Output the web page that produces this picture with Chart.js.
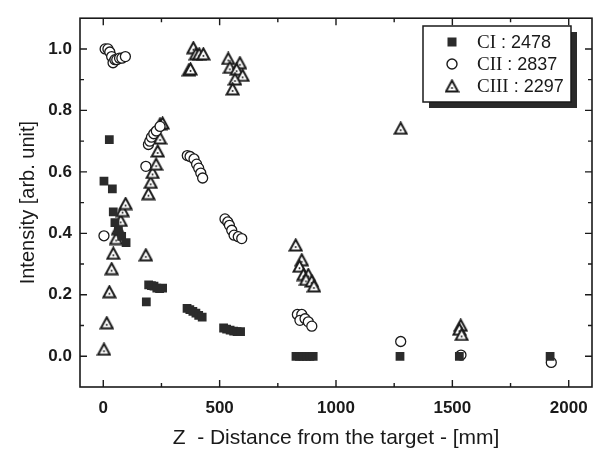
<!DOCTYPE html>
<html>
<head>
<meta charset="utf-8">
<script src="https://cdn.jsdelivr.net/npm/chart.js@4/dist/chart.umd.min.js"></script>
<style>
  html, body { margin: 0; padding: 0; background: #fff; }
  #wrap { width: 600px; height: 452px; }
</style>
</head>
<body>
<div id="wrap"><canvas id="chart"></canvas></div>
<script>
// CI : 2478 (filled squares)
const ciZ = [3, 26, 39, 43, 50, 65, 79, 98, 185, 195, 207, 218, 230, 242, 255, 360, 372, 385, 398, 410, 425, 517, 530, 545, 560, 575, 590, 828, 843, 858, 873, 888, 902, 1275, 1530, 1920];
const ciI = [0.57, 0.705, 0.545, 0.47, 0.435, 0.41, 0.39, 0.37, 0.177, 0.232, 0.23, 0.228, 0.222, 0.22, 0.222, 0.156, 0.152, 0.146, 0.14, 0.133, 0.127, 0.092, 0.088, 0.085, 0.082, 0.08, 0.08, 0, 0, 0, 0, 0, 0, 0, 0, 0];

// CII : 2837 (open circles)
const ciiZ = [3, 8, 20, 28, 36, 42, 50, 58, 70, 80, 95, 183, 194, 200, 207, 217, 228, 244, 361, 373, 390, 401, 410, 419, 427, 523, 535, 542, 552, 562, 580, 595, 834, 853, 845, 867, 881, 896, 1278, 1537, 1925];
const ciiI = [0.392, 1.0, 1.0, 0.99, 0.975, 0.955, 0.965, 0.965, 0.97, 0.97, 0.975, 0.618, 0.689, 0.7, 0.713, 0.724, 0.733, 0.748, 0.653, 0.65, 0.642, 0.625, 0.612, 0.596, 0.58, 0.447, 0.437, 0.426, 0.41, 0.394, 0.389, 0.383, 0.136, 0.136, 0.117, 0.122, 0.112, 0.098, 0.048, 0.004, -0.02];

// CIII : 2297 (open triangles)
const ciiiZ = [3, 15, 26, 36, 43, 55, 64, 75, 83, 96, 183, 194, 204, 212, 227, 234, 244, 244, 255, 368, 375, 387, 398, 412, 430, 537, 544, 587, 573, 599, 566, 556, 827, 853, 843, 860, 881, 871, 896, 905, 1278, 1536, 1530, 1540];
const ciiiI = [0.023, 0.109, 0.21, 0.285, 0.335, 0.383, 0.415, 0.442, 0.474, 0.497, 0.33, 0.529, 0.566, 0.598, 0.625, 0.668, 0.71, 0.756, 0.759, 0.932, 0.935, 1.004, 0.984, 0.984, 0.984, 0.969, 0.94, 0.955, 0.934, 0.914, 0.902, 0.87, 0.362, 0.314, 0.293, 0.266, 0.266, 0.25, 0.245, 0.229, 0.742, 0.101, 0.088, 0.071];

const seriesLabels = ['CI : 2478', 'CII : 2837', 'CIII : 2297'];

const xMajor = [0, 500, 1000, 1500, 2000];
const xMinor = [250, 750, 1250, 1750];
const yMajor = [0, 0.2, 0.4, 0.6, 0.8, 1.0];
const yMinor = [0.1, 0.3, 0.5, 0.7, 0.9];

const toPoints = (xs, ys) => xs.map((x, i) => ({ x: x, y: ys[i] }));

// triangle marker with the small dot in the middle
const makeTriangle = () => {
  const c = document.createElement('canvas');
  c.width = 15; c.height = 14;
  const g = c.getContext('2d');
  g.beginPath();
  g.moveTo(7.5, 1.5);
  g.lineTo(13.5, 12.5);
  g.lineTo(1.5, 12.5);
  g.closePath();
  g.fillStyle = '#fff';
  g.fill();
  g.lineWidth = 2;
  g.strokeStyle = '#1a1a1a';
  g.stroke();
  g.beginPath();
  g.arc(7.5, 9, 1, 0, Math.PI * 2);
  g.fillStyle = '#1a1a1a';
  g.fill();
  return c;
};
const triangle = makeTriangle();

// frame, inward ticks on all four sides and the boxed legend
const framePlugin = {
  id: 'frame',
  afterDraw(chart) {
    const ctx = chart.ctx;
    const a = chart.chartArea;
    const xs = chart.scales.x, ys = chart.scales.y;
    ctx.save();
    ctx.strokeStyle = '#1a1a1a';
    ctx.lineWidth = 1.6;
    ctx.strokeRect(a.left, a.top, a.right - a.left, a.bottom - a.top);

    ctx.lineWidth = 1.4;
    const tickX = (v, len) => {
      const p = xs.getPixelForValue(v);
      ctx.beginPath();
      ctx.moveTo(p, a.bottom); ctx.lineTo(p, a.bottom - len);
      ctx.moveTo(p, a.top); ctx.lineTo(p, a.top + len);
      ctx.stroke();
    };
    const tickY = (v, len) => {
      const p = ys.getPixelForValue(v);
      ctx.beginPath();
      ctx.moveTo(a.left, p); ctx.lineTo(a.left + len, p);
      ctx.moveTo(a.right, p); ctx.lineTo(a.right - len, p);
      ctx.stroke();
    };
    xMajor.forEach(v => tickX(v, 7));
    xMinor.forEach(v => tickX(v, 4));
    yMajor.forEach(v => tickY(v, 7));
    yMinor.forEach(v => tickY(v, 4));

    // legend box with shadow
    const bx = 423, by = 26, bw = 148, bh = 76;
    ctx.fillStyle = '#2a2a2a';
    ctx.fillRect(bx + 6, by + 6, bw, bh);
    ctx.fillStyle = '#fff';
    ctx.fillRect(bx, by, bw, bh);
    ctx.lineWidth = 1.5;
    ctx.strokeRect(bx, by, bw, bh);

    const rows = [42, 64, 86];
    chart.data.datasets.forEach((ds, i) => {
      const y = rows[i];
      const mx = 452;
      if (ds.pointStyle === 'rect') {
        ctx.fillStyle = '#2b2b2b';
        ctx.fillRect(mx - 4.5, y - 4.5, 9, 9);
      } else if (ds.pointStyle === 'circle') {
        ctx.beginPath();
        ctx.arc(mx, y, 5, 0, Math.PI * 2);
        ctx.lineWidth = 1.4;
        ctx.strokeStyle = '#1a1a1a';
        ctx.stroke();
      } else {
        ctx.drawImage(triangle, mx - 7.5, y - 7);
      }
      const parts = ds.label.split(' ');
      const name = parts[0];
      const rest = ' ' + parts.slice(1).join(' ');
      ctx.fillStyle = '#1a1a1a';
      ctx.textBaseline = 'middle';
      ctx.textAlign = 'left';
      ctx.font = '19px "Liberation Serif"';
      ctx.fillText(name, 477, y + 1);
      const w = ctx.measureText(name).width;
      ctx.font = '18px "Liberation Sans"';
      ctx.fillText(rest, 477 + w, y + 1);
    });
    ctx.restore();
  }
};

const ctx = document.getElementById('chart').getContext('2d');
const chart = new Chart(ctx, {
  type: 'scatter',
  data: {
    datasets: [{
      label: seriesLabels[0],
      data: toPoints(ciZ, ciI),
      pointStyle: 'rect',
      pointRadius: 6.2,
      backgroundColor: '#2b2b2b',
      borderColor: '#2b2b2b',
      borderWidth: 0,
    }, {
      label: seriesLabels[1],
      data: toPoints(ciiZ, ciiI),
      pointStyle: 'circle',
      pointRadius: 5,
      backgroundColor: '#fff',
      borderColor: '#1a1a1a',
      borderWidth: 1.3,
    }, {
      label: seriesLabels[2],
      data: toPoints(ciiiZ, ciiiI),
      pointStyle: triangle,
      backgroundColor: '#fff',
      borderColor: '#1a1a1a',
    }]
  },
  options: {
    responsive: true,
    maintainAspectRatio: false,
    animation: false,
    layout: { padding: { top: 10, right: 8, left: 0, bottom: 0 } },
    plugins: {
      legend: { display: false },
      tooltip: { enabled: false },
    },
    scales: {
      x: {
        type: 'linear',
        min: -100,
        max: 2100,
        afterBuildTicks: s => { s.ticks = xMajor.map(v => ({ value: v })); },
        afterFit: s => { s.height = 65; },
        grid: { display: false, drawTicks: false },
        border: { display: false },
        ticks: {
          padding: 11,
          maxRotation: 0,
          color: '#1a1a1a',
          font: { family: 'Liberation Sans', size: 17, weight: 'bold' },
          callback: v => String(v),
        },
        title: {
          display: true,
          text: 'Z  - Distance from the target - [mm]',
          color: '#1a1a1a',
          font: { family: 'Liberation Sans', size: 21, lineHeight: 1.2 },
          padding: { top: 0, bottom: 1 },
        },
      },
      y: {
        type: 'linear',
        min: -0.1,
        max: 1.1,
        afterBuildTicks: s => { s.ticks = yMajor.map(v => ({ value: v })); },
        afterFit: s => { s.width = 80; },
        grid: { display: false, drawTicks: false },
        border: { display: false },
        ticks: {
          padding: 8,
          color: '#1a1a1a',
          font: { family: 'Liberation Sans', size: 17, weight: 'bold' },
          callback: v => v.toFixed(1),
        },
        title: {
          display: true,
          text: 'Intensity [arb. unit]',
          color: '#1a1a1a',
          font: { family: 'Liberation Sans', size: 20, lineHeight: 1.2 },
          padding: { top: 16, bottom: 0 },
        },
      },
    },
  },
  plugins: [framePlugin],
});
</script>
</body>
</html>
